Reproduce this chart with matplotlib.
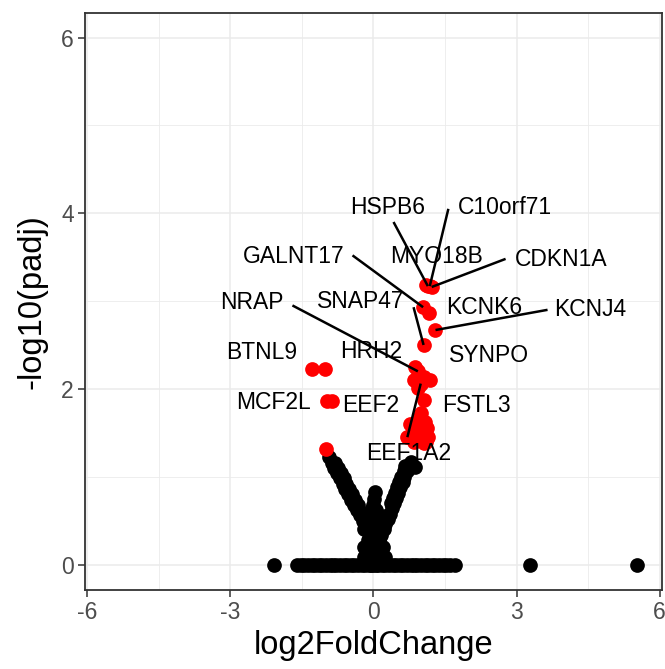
import matplotlib
matplotlib.use("Agg")
import matplotlib.pyplot as plt

plt.rcParams['font.family'] = ['Liberation Sans', 'DejaVu Sans']

# Genes that are not significant (black)
ns_lfc = [
    # padj = 1 row
    -2.08, -1.60, -1.52, -1.45, -1.38, -1.30, -1.22, -1.15, -1.08, -1.00,
    -0.92, -0.85, -0.78, -0.70, -0.62, -0.55, -0.48, -0.40, -0.32, -0.25,
    -0.18, -0.10, -0.05, 0.00, 0.05, 0.10, 0.18, 0.25, 0.32, 0.40,
    0.48, 0.55, 0.62, 0.70, 0.78, 0.85, 0.92, 1.00, 1.08, 1.15,
    1.22, 1.30, 1.38, 1.45, 1.52, 1.60, 1.70, 3.29, 5.52,
    # left arm
    -0.94, -0.88, -0.82, -0.76, -0.70, -0.65, -0.59, -0.53, -0.47, -0.41,
    -0.35, -0.29, -0.23, -0.17, -0.11, -0.05,
    -0.80, -0.74, -0.68, -0.62, -0.57, -0.51, -0.45, -0.39, -0.33,
    # right arm
    0.78, 0.88, 0.74, 0.70, 0.65, 0.61, 0.56, 0.52, 0.48, 0.43,
    0.39, 0.34, 0.30, 0.25, 0.21, 0.16, 0.12,
    0.67, 0.63, 0.58, 0.54, 0.49, 0.45, 0.41, 0.36,
    # stem and base
    0.03, 0.02, -0.02, 0.03, -0.03, 0.04, -0.05, 0.05, -0.08, 0.08,
    -0.10, 0.10, -0.12, 0.12, 0.00, 0.00,
    -0.25, -0.12, 0.12, 0.25, -0.20, 0.00, 0.20, -0.12, 0.12,
    -0.20, 0.25, -0.20, 0.20, -0.06, 0.06,
]
ns_padj = [
    0.0, 0.0, 0.0, 0.0, 0.0, 0.0, 0.0, 0.0, 0.0, 0.0,
    0.0, 0.0, 0.0, 0.0, 0.0, 0.0, 0.0, 0.0, 0.0, 0.0,
    0.0, 0.0, 0.0, 0.0, 0.0, 0.0, 0.0, 0.0, 0.0, 0.0,
    0.0, 0.0, 0.0, 0.0, 0.0, 0.0, 0.0, 0.0, 0.0, 0.0,
    0.0, 0.0, 0.0, 0.0, 0.0, 0.0, 0.0, 0.0, 0.0,
    1.22, 1.16, 1.10, 1.04, 0.98, 0.92, 0.86, 0.80, 0.74, 0.68,
    0.62, 0.56, 0.50, 0.44, 0.38, 0.32,
    1.16, 1.10, 1.04, 0.98, 0.92, 0.86, 0.80, 0.74, 0.68,
    1.17, 1.11, 1.12, 1.06, 1.00, 0.94, 0.88, 0.82, 0.76, 0.70,
    0.64, 0.58, 0.52, 0.46, 0.40, 0.34, 0.28,
    1.12, 1.06, 1.00, 0.94, 0.88, 0.82, 0.76, 0.70,
    0.83, 0.75, 0.68, 0.60, 0.52, 0.45, 0.38, 0.30, 0.22, 0.22,
    0.14, 0.14, 0.07, 0.07, 0.20, 0.10,
    0.55, 0.55, 0.55, 0.55, 0.40, 0.40, 0.40, 0.28, 0.28,
    0.08, 0.08, 0.20, 0.20, 0.62, 0.62,
]

# Significant genes without a label (red)
sig_lfc = [-1.02, 0.84, 1.05, 0.94, -1.00,
           1.00, 0.95, 1.08, 0.90, 1.12, 0.80, 1.00, 1.15, 0.71, 0.95,
           1.10, 0.85, 1.05, 0.76, 0.98]
sig_padj = [2.23, 2.10, 2.14, 2.01, 1.32,
            1.72, 1.65, 1.62, 1.57, 1.55, 1.50, 1.50, 1.45, 1.45, 1.42,
            1.40, 1.40, 1.38, 1.60, 1.68]

# Labelled significant genes
genes = ['HSPB6', 'C10orf71', 'MYO18B', 'CDKN1A', 'GALNT17', 'SNAP47',
         'KCNK6', 'KCNJ4', 'NRAP', 'BTNL9', 'HRH2', 'SYNPO', 'MCF2L',
         'EEF2', 'FSTL3', 'EEF1A2']
gene_lfc = [1.14, 1.18, 1.10, 1.22, 1.04, 1.05,
            1.16, 1.30, 0.93, -1.28, 0.88, 1.19, -0.97,
            -0.86, 1.05, 0.99]
gene_padj = [3.17, 3.17, 3.18, 3.16, 2.93, 2.50,
             2.86, 2.67, 2.20, 2.23, 2.25, 2.10, 1.86,
             1.86, 1.87, 2.06]

# Repelled label placement: text centre and where the leader line leaves it
label_xy = {
    'HSPB6': (0.29, 4.06), 'C10orf71': (2.75, 4.06), 'MYO18B': (1.32, 3.51),
    'CDKN1A': (3.94, 3.47), 'GALNT17': (-1.68, 3.51), 'SNAP47': (-0.27, 2.99),
    'KCNK6': (2.33, 2.93), 'KCNJ4': (4.55, 2.90), 'NRAP': (-2.55, 2.98),
    'BTNL9': (-2.35, 2.41), 'HRH2': (-0.04, 2.43), 'SYNPO': (2.43, 2.38),
    'MCF2L': (-2.10, 1.84), 'EEF2': (-0.06, 1.81), 'FSTL3': (2.16, 1.81),
    'EEF1A2': (0.73, 1.26),
}
segment_start = {
    'HSPB6': (0.42, 3.90), 'C10orf71': (1.57, 4.05), 'CDKN1A': (2.77, 3.48),
    'GALNT17': (-0.44, 3.52), 'SNAP47': (0.84, 2.93), 'KCNJ4': (3.65, 2.90),
    'NRAP': (-1.70, 2.95), 'EEF1A2': (0.71, 1.45),
}

fig = plt.figure(figsize=(6.65, 6.69), dpi=100)
ax = fig.add_axes([0.1278, 0.1181, 0.8677, 0.8625])

ax.scatter(ns_lfc, ns_padj, s=112, c='black', linewidths=0, zorder=3)
ax.scatter(sig_lfc, sig_padj, s=112, c='red', linewidths=0, zorder=3)
ax.scatter(gene_lfc, gene_padj, s=112, c='red', linewidths=0, zorder=3)

for g, gx, gy in zip(genes, gene_lfc, gene_padj):
    if g in segment_start:
        sx, sy = segment_start[g]
        ax.plot([sx, gx], [sy, gy], color='black', lw=1.8, zorder=4,
                solid_capstyle='butt')
    tx, ty = label_xy[g]
    ax.text(tx, ty, g, fontsize=16.5, ha='center', va='center', zorder=5)

ax.set_xlim(-6.05, 6.05)
ax.set_ylim(-0.29, 6.28)
ax.set_xticks([-6, -3, 0, 3, 6])
ax.set_xticklabels(['-6', '-3', '0', '3', '6'])
ax.set_xticks([-4.5, -1.5, 1.5, 4.5], minor=True)
ax.set_yticks([0, 2, 4, 6])
ax.set_yticks([1, 3, 5], minor=True)

ax.grid(True, which='major', color='#EBEBEB', lw=1.1, zorder=0)
ax.grid(True, which='minor', color='#EBEBEB', lw=0.6, zorder=0)
ax.set_axisbelow(True)
ax.tick_params(which='major', length=5, width=1.1, color='#333333',
               labelcolor='#4D4D4D', labelsize=16.5, pad=3)
ax.tick_params(which='minor', length=0)
for sp in ax.spines.values():
    sp.set_color('#333333')
    sp.set_linewidth(1.3)

ax.set_xlabel('log2FoldChange', fontsize=23.5, labelpad=4)
ax.set_ylabel('-log10(padj)', fontsize=23.5, labelpad=10)

fig.savefig('out.png', dpi=100)
